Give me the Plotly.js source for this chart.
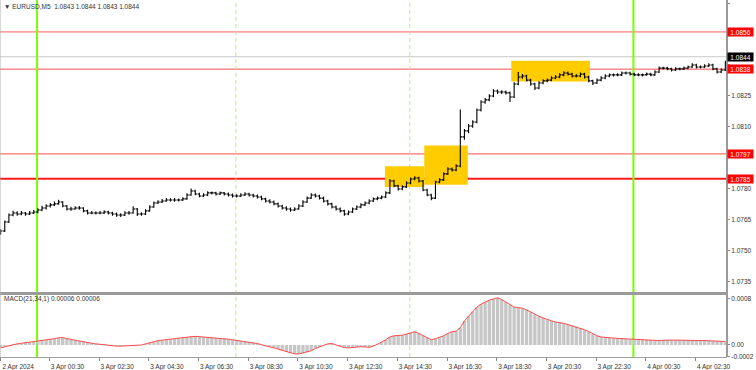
<!DOCTYPE html>
<html><head><meta charset="utf-8">
<script src="https://cdn.plot.ly/plotly-3.0.1.min.js"></script>
<style>html,body{margin:0;padding:0;background:#fff}#chart{width:756px;height:370px}</style>
</head><body><div id="chart"></div>
<script>
// ---- text ----
const symbolTitle = "\u25BC EURUSD,M5  1.0843 1.0844 1.0843 1.0844";
const macdTitle = "MACD(21,34,1) 0.00006 0.00006";

// ---- bar timeline (10-minute bars) ----
const firstBarUTC = Date.UTC(2024, 3, 2, 22, 32);
const barStepMin = 10;

// ---- prices, in pips above 1.0700 ----
const pipBase = 1.07;
const openPips = [58.5,59.7,64.0,67.4,68.4,67.9,68.4,67.9,68.4,68.9,
69.8,70.8,71.8,72.3,72.8,73.7,71.8,70.3,70.3,70.8,
70.8,69.4,68.4,68.4,68.4,68.4,68.9,68.4,67.9,67.4,
67.4,68.4,68.4,70.3,67.9,67.9,69.4,71.3,73.2,73.7,
74.2,74.7,74.7,74.7,74.7,75.2,77.1,79.0,77.6,76.6,
77.1,78.1,78.1,77.6,78.1,77.6,77.1,76.6,76.6,77.1,
77.6,77.1,76.6,76.1,75.2,74.2,73.7,72.8,71.8,70.8,
70.3,69.8,70.3,71.8,73.7,75.6,77.1,76.6,75.6,74.2,
72.8,71.3,70.3,69.4,67.9,68.9,70.3,71.3,72.3,73.2,
74.2,75.2,75.6,76.1,78.1,83.9,81.5,80.0,81.0,82.9,
84.8,85.3,83.9,79.5,77.1,75.6,83.4,84.4,87.3,89.7,
89.2,91.1,105.2,108.1,110.5,112.4,118.2,122.1,123.1,125.0,
127.4,126.9,126.9,126.5,124.5,130.8,134.2,134.7,132.7,130.8,
128.9,131.3,132.3,132.7,133.7,134.2,135.2,136.1,135.6,134.7,
134.7,135.6,134.2,132.3,131.3,132.7,133.7,134.7,135.2,135.2,
135.2,136.1,136.1,135.6,135.2,135.2,135.2,135.6,135.2,136.6,
138.5,138.5,138.1,137.6,138.1,138.1,138.5,139.0,140.0,139.0,
139.0,139.5,140.0,138.1,136.6,137.6];
const highPips = [60.5,64.8,68.2,69.5,69.2,69.4,68.9,69.3,69.8,70.7,
71.9,72.6,73.2,73.9,74.8,74.1,72.3,71.4,71.7,71.8,
71.2,69.9,69.3,69.1,69.4,69.7,69.5,69.0,68.6,68.3,
69.2,69.3,71.6,70.8,68.8,70.2,72.1,74.0,74.6,75.1,
75.6,75.5,75.7,75.4,76.0,77.9,80.2,79.6,78.2,77.9,
78.9,78.8,78.7,78.8,78.6,78.3,77.8,77.5,77.9,78.4,
78.2,77.7,77.3,76.7,75.8,75.0,74.4,73.5,72.4,71.6,
71.0,71.2,72.6,74.5,76.4,77.9,77.8,77.2,76.2,74.8,
73.4,72.0,71.0,70.0,69.6,71.0,72.0,73.1,73.9,75.0,
75.9,76.4,76.9,78.9,84.8,84.5,82.1,81.8,83.7,85.6,
86.2,85.9,84.4,80.1,77.7,84.0,85.2,88.1,90.5,90.4,
92.0,118.5,109.0,111.4,113.3,119.0,122.9,124.0,125.9,128.3,
128.1,127.8,127.6,127.2,131.6,136.6,135.6,135.3,133.3,131.4,
132.1,133.1,133.5,134.5,135.0,136.0,137.0,136.8,136.3,135.6,
136.4,136.2,134.8,132.9,133.5,134.5,135.5,135.9,135.9,136.0,
136.9,136.8,136.7,136.2,136.0,135.9,136.4,136.2,137.4,139.3,
139.2,139.1,138.7,138.9,138.8,139.3,139.8,140.9,140.6,139.8,
140.3,140.8,140.6,138.7,138.4,142.0];
const lowPips = [57.8,59.2,63.5,66.8,67.0,67.3,67.1,67.4,67.9,68.3,
69.2,70.1,71.0,71.8,72.4,71.2,69.6,69.5,69.9,70.0,
68.8,67.6,67.8,67.6,67.8,67.9,67.7,67.1,66.6,66.5,
66.9,67.5,68.0,66.9,67.1,67.4,69.0,70.9,72.7,73.2,
73.8,73.9,73.8,73.9,74.2,74.8,76.7,77.0,76.0,76.1,
76.6,77.3,76.9,77.1,76.9,76.4,75.9,75.9,76.1,76.6,
76.4,75.9,75.4,74.5,73.5,73.0,72.1,71.1,70.1,69.5,
69.0,69.3,69.9,71.3,73.2,75.1,75.9,74.9,73.5,72.0,
70.6,69.6,68.6,67.0,67.3,68.4,69.8,70.7,71.8,72.6,
73.7,74.6,75.0,75.6,77.6,80.9,79.3,79.4,80.5,82.3,
84.2,83.2,78.9,76.5,74.6,75.1,82.8,83.9,86.8,88.5,
88.6,90.5,103.8,107.0,109.6,111.8,117.5,121.2,122.4,124.4,
126.0,126.0,125.7,122.1,124.0,130.2,133.3,132.0,130.0,127.9,
128.3,130.7,131.6,132.1,133.1,133.6,134.6,134.9,134.0,134.0,
134.1,133.5,131.6,130.3,130.8,132.1,133.1,134.1,134.4,134.5,
134.7,135.4,134.9,134.5,134.6,134.4,134.8,134.5,134.8,136.1,
137.8,137.4,136.9,137.1,137.4,137.6,138.0,138.5,138.3,138.4,
138.5,139.0,137.4,135.9,136.1,137.1];
const closePips = [59.7,64.0,67.4,68.4,67.9,68.4,67.9,68.4,68.9,69.8,
70.8,71.8,72.3,72.8,73.7,71.8,70.3,70.3,70.8,70.8,
69.4,68.4,68.4,68.4,68.4,68.9,68.4,67.9,67.4,67.4,
68.4,68.4,70.3,67.9,67.9,69.4,71.3,73.2,73.7,74.2,
74.7,74.7,74.7,74.7,75.2,77.1,79.0,77.6,76.6,77.1,
78.1,78.1,77.6,78.1,77.6,77.1,76.6,76.6,77.1,77.6,
77.1,76.6,76.1,75.2,74.2,73.7,72.8,71.8,70.8,70.3,
69.8,70.3,71.8,73.7,75.6,77.1,76.6,75.6,74.2,72.8,
71.3,70.3,69.4,67.9,68.9,70.3,71.3,72.3,73.2,74.2,
75.2,75.6,76.1,78.1,83.9,81.5,80.0,81.0,82.9,84.8,
85.3,83.9,79.5,77.1,75.6,83.4,84.4,87.3,89.7,89.2,
91.1,105.2,108.1,110.5,112.4,118.2,122.1,123.1,125.0,127.4,
126.9,126.9,126.5,124.5,130.8,134.2,134.7,132.7,130.8,128.9,
131.3,132.3,132.7,133.7,134.2,135.2,136.1,135.6,134.7,134.7,
135.6,134.2,132.3,131.3,132.7,133.7,134.7,135.2,135.2,135.2,
136.1,136.1,135.6,135.2,135.2,135.2,135.6,135.2,136.6,138.5,
138.5,138.1,137.6,138.1,138.1,138.5,139.0,140.0,139.0,139.0,
139.5,140.0,138.1,136.6,137.6,141.0];

// ---- MACD(21,34,1), in units of 0.00001 ----
const macdValues = [-5,-3,-1,1,2,3,4,5,5.5,6,
8,9,10,11,12.5,13,11,9.5,8,7,
5.5,4.5,3,2,1,0,-1,-1.5,-2,-2,
-1.5,-1,0,-0.5,0,2,4,6,7.5,8.5,
9,10,11,12,13,14,15,15,14.5,14,
13.5,13,12,11,10.5,10,9,8,7,5.5,
4.5,3.5,2.5,0.5,-2,-3.5,-5,-7,-9.5,-12,
-14,-15.5,-15.5,-14,-12.5,-10,-6,-3,0,2,
2.5,0,-2,-4.5,-5,-4,-3.5,-3,-3.5,-4,
-2,1,5,9,14,16,16.5,17,19,21,
23,20,16.5,13,9,11,13.5,16,20,23,
24,30,42,50,58,66,71,75,78,80,
82,79,75,70,66,65,64,61,57,53,
50,47,44,42,40,39,37.5,35.5,33.5,31.5,
29.5,26.5,23.5,19.5,16,14,13,12.5,12,11.5,
11,10.5,10,10,9.5,9,9,8.5,8,8,
8.5,8.5,8.5,8.5,8.5,8.5,8.5,8.5,8,8,
8,7.5,7,6.5,6,6];

// ---- axis ticks ----
const priceTicks = [1.0735,1.0750,1.0765,1.0780,1.0795,1.0810,1.0825,1.0840,1.0855,1.0870];
const priceTickText = ["1.0735","1.0750","1.0765","1.0780","","1.0810","1.0825","","","1.0870"];
const macdTicks = [-0.0002, 0, 0.0008];
const macdTickText = ["-0.0002", "0.00", "0.0008"];
const timeTicks = ["2024-04-02 22:31","2024-04-03 00:30","2024-04-03 02:30","2024-04-03 04:30","2024-04-03 06:30",
  "2024-04-03 08:30","2024-04-03 10:30","2024-04-03 12:30","2024-04-03 14:30","2024-04-03 16:30",
  "2024-04-03 18:30","2024-04-03 20:30","2024-04-03 22:30","2024-04-04 00:30","2024-04-04 02:30"];
const timeTickText = ["2 Apr 2024","3 Apr 00:30","3 Apr 02:30","3 Apr 04:30","3 Apr 06:30","3 Apr 08:30",
  "3 Apr 10:30","3 Apr 12:30","3 Apr 14:30","3 Apr 16:30","3 Apr 18:30","3 Apr 20:30","3 Apr 22:30",
  "4 Apr 00:30","4 Apr 02:30"];

// ---- drawn objects ----
const levelPrices = [1.0856, 1.0838, 1.0797, 1.0785];
const bidPrice = 1.0844;
const zoneStart = ["2024-04-03 14:00","2024-04-03 15:35","2024-04-03 19:05"];
const zoneEnd   = ["2024-04-03 15:35","2024-04-03 17:20","2024-04-03 22:15"];
const zoneLow   = [1.0781, 1.0782, 1.0832];
const zoneHigh  = [1.0791, 1.0801, 1.0842];
const dayLines = ["2024-04-03 00:00","2024-04-04 00:00"];
const sessionLines = ["2024-04-03 08:00","2024-04-03 15:00"];

// ---- build ----
function fmt(ms){ return new Date(ms).toISOString().slice(0,19).replace('T',' '); }
const barTimes = closePips.map((_, i) => fmt(firstBarUTC + i*barStepMin*60000));
const toPrice = v => +(pipBase + v/10000).toFixed(5);

const FONT = 'Liberation Sans, Arial, sans-serif';
const TXT = '#333333';

const traces = [
  {type:'ohlc', x:barTimes, open:openPips.map(toPrice), high:highPips.map(toPrice),
   low:lowPips.map(toPrice), close:closePips.map(toPrice), xaxis:'x', yaxis:'y',
   increasing:{line:{color:'#000000', width:1.1}}, decreasing:{line:{color:'#000000', width:1.1}},
   tickwidth:0.45, hoverinfo:'skip'},
  {type:'bar', x:barTimes, y:macdValues.map(v => v*1e-5), xaxis:'x', yaxis:'y2',
   marker:{color:'#c6c6c6', line:{width:0}}, hoverinfo:'skip'},
  {type:'scatter', mode:'lines', x:barTimes, y:macdValues.map(v => v*1e-5), xaxis:'x', yaxis:'y2',
   line:{color:'#ff4a4a', width:1}, hoverinfo:'skip'}
];

const shapes = [];
zoneStart.forEach((s, i) => shapes.push({type:'rect', xref:'x', yref:'y', x0:s, x1:zoneEnd[i],
  y0:zoneLow[i], y1:zoneHigh[i], fillcolor:'#ffcc00', line:{width:0}, layer:'below'}));
shapes.push({type:'line', xref:'paper', yref:'y', x0:0, x1:1, y0:bidPrice, y1:bidPrice,
  line:{color:'#c8c8c8', width:1}, layer:'below'});
const levelStyle = [{c:'#ff5c5c', w:1}, {c:'#ff4d4d', w:1}, {c:'#ff7070', w:1.4}, {c:'#ff1a1a', w:2}];
levelPrices.forEach((p, i) => shapes.push({type:'line', xref:'paper', yref:'y', x0:0, x1:1, y0:p, y1:p,
  line:{color:levelStyle[i].c, width:levelStyle[i].w}, layer:'below'}));
dayLines.forEach(t => shapes.push({type:'line', xref:'x', yref:'paper', x0:t, x1:t, y0:0, y1:1,
  line:{color:'#7cfc00', width:2}, layer:'below'}));
sessionLines.forEach(t => shapes.push({type:'line', xref:'x', yref:'paper', x0:t, x1:t, y0:0, y1:1,
  line:{color:'#b4f07a', width:1, dash:'4px,3px'}, layer:'below'}));
// panel frame
shapes.push({type:'line', xref:'paper', yref:'paper', x0:0, x1:1, y0:0.1779, y1:0.1779,
  line:{color:'#9a9a9a', width:3}});
shapes.push({type:'line', xref:'paper', yref:'paper', x0:1, x1:1, y0:0, y1:1,
  line:{color:'#9a9a9a', width:2}});
shapes.push({type:'line', xref:'paper', yref:'paper', x0:0, x1:0, y0:0, y1:1,
  line:{color:'#b0b0b0', width:1}});

const annotations = [
  {xref:'paper', yref:'paper', x:0, y:1, xanchor:'left', yanchor:'top', xshift:2, yshift:-1,
   text:symbolTitle, showarrow:false, font:{family:FONT, size:6.5, color:TXT}},
  {xref:'paper', yref:'y2', x:0, y:0.0008, xanchor:'left', yanchor:'middle', xshift:2,
   text:macdTitle, showarrow:false, font:{family:FONT, size:6.5, color:TXT}}
];
const tagPrices = [1.0856, bidPrice, 1.0838, 1.0797, 1.0785];
const tagColors = ['#ff0000', '#000000', '#ff0000', '#ff0000', '#ff0000'];
tagPrices.forEach((p, i) => annotations.push({xref:'paper', yref:'y', x:1, y:p, xanchor:'left',
  yanchor:'middle', xshift:0, text:p.toFixed(4), showarrow:false, bgcolor:tagColors[i],
  borderpad:0.5, width:24, align:'center', font:{family:FONT, size:6.5, color:'#ffffff'}}));

const layout = {
  width:756, height:370, margin:{l:0, r:29, t:0, b:13},
  paper_bgcolor:'#ffffff', plot_bgcolor:'#ffffff', showlegend:false, bargap:0.2,
  xaxis:{type:'date', anchor:'y2', range:['2024-04-02 22:30:30','2024-04-04 03:46:00'],
    tickmode:'array', tickvals:timeTicks, ticktext:timeTickText, ticks:'outside', ticklen:3,
    tickcolor:'#888888', ticklabelshift:18, showgrid:false, zeroline:false, showline:true,
    linecolor:'#a0a0a0', linewidth:1, rangeslider:{visible:false},
    tickfont:{family:FONT, size:6.5, color:TXT}},
  yaxis:{domain:[0.1821, 1], range:[1.073016, 1.087145], side:'right', anchor:'x',
    tickmode:'array', tickvals:priceTicks, ticktext:priceTickText,
    ticks:'outside', ticklen:2, tickcolor:'#888888', showgrid:false, zeroline:false, showline:false,
    tickfont:{family:FONT, size:6.5, color:TXT}},
  yaxis2:{domain:[0, 0.1737], range:[-0.0002087, 0.0008696], side:'right', anchor:'x',
    tickmode:'array', tickvals:macdTicks, ticktext:macdTickText,
    ticks:'outside', ticklen:2, tickcolor:'#888888', showgrid:false, zeroline:false, showline:false,
    tickfont:{family:FONT, size:6.5, color:TXT}},
  shapes:shapes, annotations:annotations
};

Plotly.newPlot('chart', traces, layout, {staticPlot:true, displayModeBar:false});
</script>
</body></html>
